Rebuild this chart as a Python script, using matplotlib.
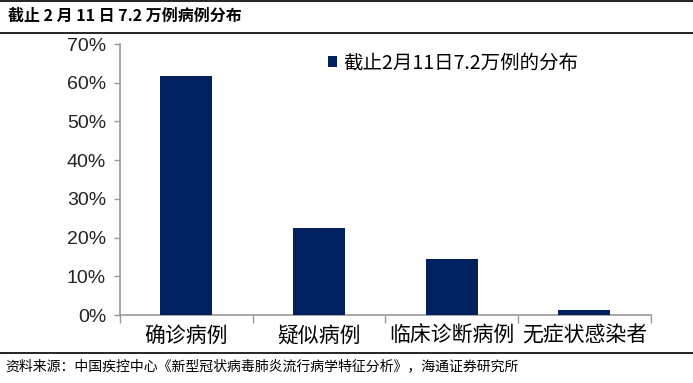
import matplotlib
matplotlib.use('Agg')
import matplotlib.pyplot as plt
from matplotlib.lines import Line2D
from matplotlib.ticker import FuncFormatter, FixedLocator

plt.rcParams['font.family'] = ['Liberation Sans', 'Noto Sans CJK SC', 'DejaVu Sans']

categories = ['确诊病例', '疑似病例', '临床诊断病例', '无症状感染者']
shares = [61.8, 22.4, 14.6, 1.2]
series_name = '截止2月11日7.2万例的分布'
title = '截止 2 月 11 日 7.2 万例病例分布'
source = '资料来源：中国疾控中心《新型冠状病毒肺炎流行病学特征分析》，海通证券研究所'

navy = '#002060'
gray = '#999999'

fig = plt.figure(figsize=(6.93, 3.83), dpi=100)
ax = fig.add_axes([0.173, 0.1775, 0.766, 0.7075])

x = list(range(len(categories)))
ax.bar(x, shares, width=0.39, color=navy, label=series_name, zorder=3)

ax.set_xlim(-0.5, len(categories) - 0.5)
ax.set_ylim(0, 70)
ax.set_yticks(range(0, 71, 10))
ax.yaxis.set_major_formatter(FuncFormatter(lambda v, p: f'{v:.0f}%'))
ax.tick_params(axis='y', labelsize=14, colors=gray, labelcolor='#222222', length=4, width=1, pad=6)

ax.set_xticks(x)
ax.set_xticklabels(categories, fontsize=15, family=['Noto Sans CJK SC'])
ax.tick_params(axis='x', which='major', length=0, pad=7)
ax.xaxis.set_minor_locator(FixedLocator([i - 0.5 for i in range(len(categories) + 1)]))
ax.tick_params(axis='x', which='minor', length=6, width=1, colors=gray)

for side in ['top', 'right']:
    ax.spines[side].set_visible(False)
for side in ['left', 'bottom']:
    ax.spines[side].set_color(gray)
    ax.spines[side].set_linewidth(1.2)

leg = ax.legend(loc='center left', bbox_to_anchor=(0.392, 0.93), frameon=False,
                prop={'family': ['Noto Sans CJK SC'], 'size': 14},
                handlelength=0.45, handleheight=0.45, handletextpad=0.35,
                borderpad=0, borderaxespad=0)

# header / footer
fig.text(0.012, 0.958, title, fontsize=11.5, fontweight='bold', va='center',
         family=['Noto Sans CJK SC'])
for yy in [0.997, 0.913, 0.078]:
    fig.add_artist(Line2D([0, 1], [yy, yy], color='black', lw=1.2, transform=fig.transFigure))
fig.text(0.007, 0.044, source, fontsize=10, va='center', family=['Noto Sans CJK SC'])

fig.savefig('out.png', dpi=100)
